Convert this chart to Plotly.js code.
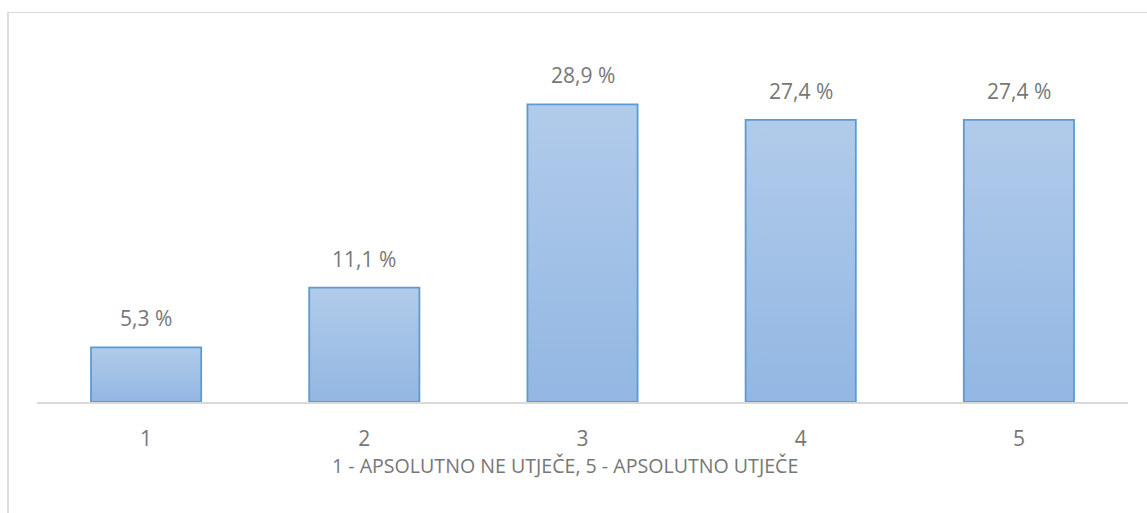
<!DOCTYPE html>
<html>
<head>
<meta charset="utf-8">
<script src="https://cdn.plot.ly/plotly-3.0.1.min.js"></script>
<style>
  html, body { margin: 0; padding: 0; background: #ffffff; overflow: hidden; }
  #frame { position: absolute; left: 7px; top: 12px; width: 1200px; height: 600px;
           border-top: 1px solid #d9d9d9; border-left: 2px solid #dedede; }
  #chart { position: absolute; left: 0; top: 0; width: 1147px; height: 513px; }
</style>
</head>
<body>
<div id="frame"></div>
<div id="chart"></div>
<script>
// ---- data ----
const categories = ['1', '2', '3', '4', '5'];
const percentValues = [5.3, 11.1, 28.9, 27.4, 27.4];
const axisTitle = '1 - APSOLUTNO NE UTJEČE, 5 - APSOLUTNO UTJEČE';

const labelTexts = percentValues.map(v => v.toFixed(1).replace('.', ',') + ' %');
const textColor = '#777777';
const fontFamily = '"Open Sans", "DejaVu Sans", sans-serif';

const trace = {
  type: 'bar',
  x: categories,
  y: percentValues,
  width: 0.505,
  marker: { color: '#a2c0e6', line: { color: '#5b9bd5', width: 1.8 } },
  hoverinfo: 'none'
};

const annotations = categories.map((c, i) => ({
  x: i, y: percentValues[i], xref: 'x', yref: 'y',
  text: labelTexts[i], showarrow: false,
  xanchor: 'center', yanchor: 'bottom', yshift: 13,
  font: { family: fontFamily, size: 21, color: textColor }
}));
annotations.push({
  x: 0.484, y: -0.207, xref: 'paper', yref: 'paper',
  xanchor: 'center', yanchor: 'middle',
  text: axisTitle, showarrow: false,
  font: { family: fontFamily, size: 19.6, color: textColor }
});

const layout = {
  width: 1147, height: 513,
  margin: { l: 37, r: 19, t: 93, b: 111 },
  paper_bgcolor: 'rgba(0,0,0,0)',
  plot_bgcolor: 'rgba(0,0,0,0)',
  showlegend: false,
  font: { family: fontFamily, color: textColor },
  xaxis: {
    type: 'category',
    range: [-0.5, categories.length - 0.5],
    autorange: false,
    showline: true, linecolor: '#d9d9d9', linewidth: 1.5,
    showgrid: false, zeroline: false, ticks: '',
    ticklabelstandoff: 17,
    tickfont: { family: fontFamily, size: 21, color: textColor }
  },
  yaxis: {
    range: [0, 30], autorange: false, showgrid: false, zeroline: false,
    showticklabels: false, ticks: '', showline: false
  },
  annotations: annotations
};

function applyGradient(gd) {
  const svg = gd.querySelector('svg.main-svg');
  if (!svg) return;
  let defs = svg.querySelector('defs');
  if (!defs) { defs = document.createElementNS('http://www.w3.org/2000/svg', 'defs'); svg.insertBefore(defs, svg.firstChild); }
  if (!svg.querySelector('#barGrad')) {
    const ns = 'http://www.w3.org/2000/svg';
    const g = document.createElementNS(ns, 'linearGradient');
    g.setAttribute('id', 'barGrad');
    g.setAttribute('x1', '0'); g.setAttribute('y1', '0');
    g.setAttribute('x2', '0'); g.setAttribute('y2', '1');
    [['0', '#b1cbea'], ['1', '#92b7e2']].forEach(([o, c]) => {
      const s = document.createElementNS(ns, 'stop');
      s.setAttribute('offset', o); s.setAttribute('stop-color', c);
      g.appendChild(s);
    });
    defs.appendChild(g);
  }
  gd.querySelectorAll('.barlayer .point path').forEach(p => { p.style.fill = 'url(#barGrad)'; });
}

Plotly.newPlot('chart', [trace], layout, { displayModeBar: false, staticPlot: true }).then(gd => {
  applyGradient(gd);
  gd.on('plotly_afterplot', () => applyGradient(gd));
});
</script>
</body>
</html>
